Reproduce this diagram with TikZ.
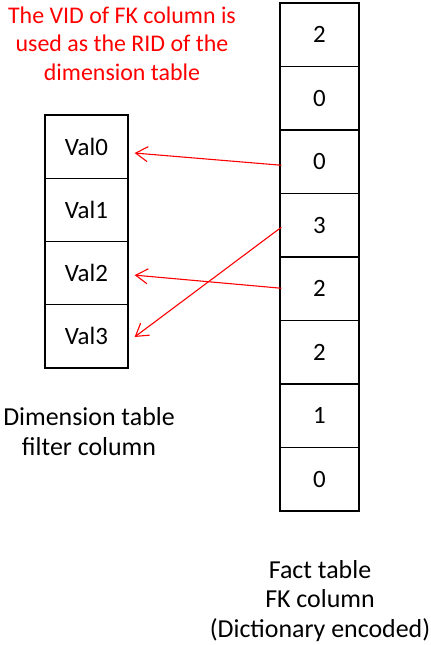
\documentclass[tikz,border=0pt]{standalone}
\usepackage{fontspec}
\setmainfont{Carlito}
\usetikzlibrary{arrows.meta,calc}

\tikzset{
  cell/.style={draw=black, line width=1.3bp, inner sep=0pt, font=\fontsize{25}{30}\selectfont},
  dimcell/.style={cell, minimum width=83bp, minimum height=63.25bp},
  factcell/.style={cell, minimum width=79bp, minimum height=63.5bp},
  caption/.style={align=center, inner sep=0pt, font=\fontsize{26}{30}\selectfont},
  note/.style={align=center, inner sep=0pt, text=red, font=\fontsize{24}{28.5}\selectfont},
  link/.style={draw=red, line width=1.1bp, -{Straight Barb[length=12bp,width=15bp,line width=1.1bp]}}
}

\begin{document}
\begin{tikzpicture}[x=1bp,y=-1bp]
  \useasboundingbox[fill=white] (0,0) rectangle (430,645);

  % dimension table filter column
  \foreach \i/\v in {0/Val0,1/Val1,2/Val2,3/Val3}
    \node[dimcell] (d\i) at (86.5,{115+63.25*(\i+0.5)}) {\v};

  % fact table FK column (dictionary encoded)
  \foreach \i/\v in {0/2,1/0,2/0,3/3,4/2,5/2,6/1,7/0}
    \node[factcell] (f\i) at (319.5,{3+63.5*(\i+0.5)}) {\v};

  % captions
  \node[note] (title) at (122,43.5) {The VID of FK column is\\used as the RID of the\\dimension table};
  \node[caption] (dimlabel) at (89,432) {Dimension table\\filter column};
  \node[caption] (factlabel) at (320,601) {Fact table\\FK column\\(Dictionary encoded)};

  % FK values pointing at dimension rows
  \draw[link] ($(f2.west)+(2,3.5)$) -- ($(d0.east)+(6,6.4)$);
  \draw[link] ($(f4.west)+(2,-0.5)$) -- ($(d2.east)+(6,2)$);
  \draw[link] ($(f3.west)+(2,2)$) -- ($(d3.east)+(6,0.6)$);
\end{tikzpicture}
\end{document}
